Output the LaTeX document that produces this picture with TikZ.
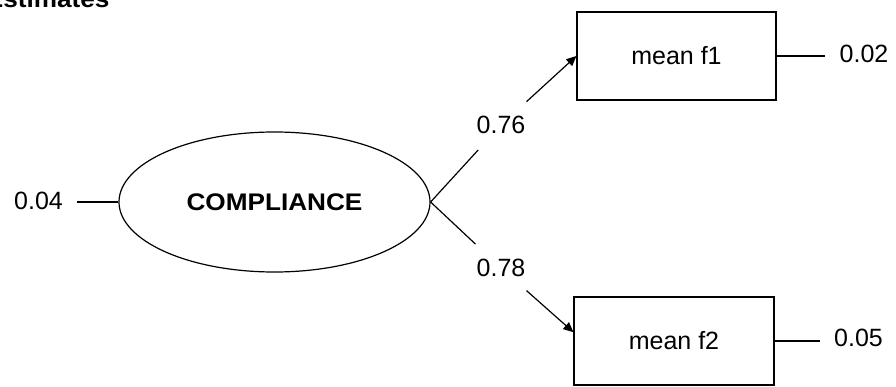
\documentclass[tikz,border=0pt]{standalone}
\usepackage{fontspec}
\setmainfont{Liberation Sans}
\usetikzlibrary{arrows.meta}
\usetikzlibrary{positioning,shapes.geometric}

\begin{document}
\begin{tikzpicture}[
x=1pt,y=-1pt,
MyBox/.style={draw,line width=1.2pt,minimum width=199pt,minimum height=88pt,inner sep=0pt},
MyLatent/.style={draw,line width=1.2pt,ellipse,minimum width=311pt,minimum height=140pt,inner sep=0pt},
Loadings/.style={inner xsep=1pt,inner ysep=16pt},
Errors/.style={inner xsep=14pt,inner ysep=2pt},
Paths/.style={draw=black,line width=1.2pt},
every node/.style={font=\fontsize{25}{30}\selectfont}
]
\useasboundingbox (0,0) rectangle (896,387);
\clip (0,0) rectangle (896,387);

% title, cut by the top edge
\node[anchor=base east,font=\bfseries\fontsize{24}{28}\selectfont] (title) at (113,8) {\scalebox{1.09}[1]{Estimates}};

% latent variable and indicators
\node[MyLatent,font=\bfseries\fontsize{24}{28}\selectfont] (comp) at (274.5,202) {\scalebox{1.09}[1]{COMPLIANCE}};
\node[MyBox] (f1) at (676.5,56) {mean f1};
\node[MyBox,minimum width=200pt] (f2) at (674,341) {mean f2};

% loadings
\node[Loadings] (l1) at (501,125) {0.76};
\node[Loadings] (l2) at (501,268) {0.78};

% error variances
\node[Errors] (e0) at (38.5,201) {0.04};
\node[Errors] (e1) at (864,54) {0.02};
\node[Errors] (e2) at (858.5,338) {0.05};

\draw[Paths] (comp.east) -- (l1);
\draw[Paths,-{Triangle[length=10pt,width=9pt]}] (l1) -- (f1.west);
\draw[Paths] (comp.east) -- (l2);
\draw[Paths,-{Triangle[length=10pt,width=9pt]}] (l2) -- (f2.175);

\draw[Paths] (e0.east |- comp.west) -- (comp.west);
\draw[Paths] (f1.east) -- (e1.west |- f1.east);
\draw[Paths] (f2.east) -- (e2.west |- f2.east);

\end{tikzpicture}
\end{document}
